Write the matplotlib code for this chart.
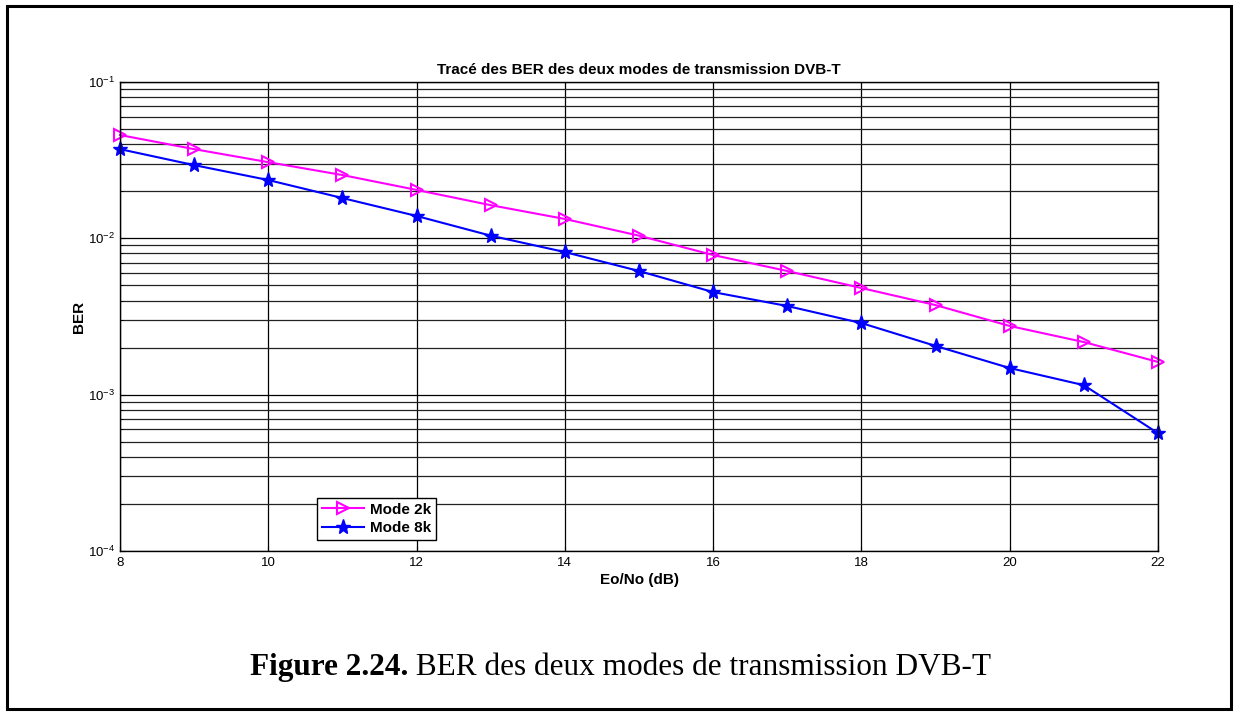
import matplotlib
matplotlib.use("Agg")
import matplotlib.pyplot as plt
from matplotlib.patches import Rectangle

snr_db = [8, 9, 10, 11, 12, 13, 14, 15, 16, 17, 18, 19, 20, 21, 22]
ber_2k = [0.0458, 0.0372, 0.0307, 0.0254, 0.0204, 0.0163, 0.0133, 0.0104,
          0.00782, 0.00618, 0.00481, 0.00374, 0.00275, 0.00217, 0.00162]
ber_8k = [0.0372, 0.0294, 0.0236, 0.0181, 0.0139, 0.0104, 0.00817, 0.00618,
          0.00453, 0.00369, 0.00287, 0.00205, 0.00148, 0.00115, 0.000567]
x_ticks = [8, 10, 12, 14, 16, 18, 20, 22]
title = "Tracé des BER des deux modes de transmission DVB-T"
xlabel = "Eo/No (dB)"
ylabel = "BER"
legend_labels = ["Mode 2k", "Mode 8k"]
caption_bold = "Figure 2.24."
caption_rest = " BER des deux modes de transmission DVB-T"

plt.rcParams['font.family'] = ['Liberation Sans', 'DejaVu Sans']
plt.rcParams['mathtext.default'] = 'regular'

W, H = 1236, 715
fig = plt.figure(figsize=(W/100, H/100), dpi=100)
fig.patch.set_facecolor('white')
ax = fig.add_axes([120/W, 1-551/H, (1158-120)/W, (551-82)/H])

ax.semilogy(snr_db, ber_2k, color='#ff00ff', lw=1.5, marker='>', ms=8,
            mfc='none', mec='#ff00ff', mew=1.5, label=legend_labels[0], clip_on=False)
ax.semilogy(snr_db, ber_8k, color='#0000ff', lw=1.5, marker='*', ms=11,
            mfc='#0000ff', mec='#0000ff', label=legend_labels[1], clip_on=False)

ax.set_xlim(8, 22)
ax.set_ylim(1e-4, 1e-1)
ax.set_xticks(x_ticks)
ax.grid(True, which='major', color='black', lw=0.9, ls='-')
ax.grid(True, which='minor', color='#222222', lw=0.9, ls='-')
ax.tick_params(axis='both', which='both', direction='in', labelsize=9.5, top=False, right=False)
ax.tick_params(axis='x', pad=4)
ax.tick_params(axis='y', which='minor', labelleft=False)
for s in ax.spines.values():
    s.set_linewidth(1.0)

ax.set_title(title, fontsize=11, fontweight='bold', pad=6)
ax.set_xlabel(xlabel, fontsize=11, fontweight='bold')
ax.set_ylabel(ylabel, fontsize=11, fontweight='bold')
ax.xaxis.set_label_coords(0.5, (551-573)/469)
ax.yaxis.set_label_coords((86-120)/1038, 0.5)

leg = ax.legend(loc='lower left', bbox_to_anchor=((317-120)/1038, (551-540)/469),
                prop={'weight': 'bold', 'size': 11}, frameon=True, fancybox=False,
                edgecolor='black', framealpha=1, borderpad=0.3, handlelength=2.8,
                handletextpad=0.35, labelspacing=0.3, borderaxespad=0, markerscale=1.0)
leg.get_frame().set_linewidth(1.0)

# outer frame
fig.add_artist(Rectangle((7/W, 1-709/H), (1231-7)/W, (709-6)/H,
                         transform=fig.transFigure, fill=False, ec='black', lw=2.2))

fs = 22.5
t1 = fig.text(0, 1-675/H, caption_bold, fontsize=fs, fontweight='bold',
              family='Liberation Serif', ha='left', va='baseline')
t2 = fig.text(0, 1-675/H, caption_rest, fontsize=fs,
              family='Liberation Serif', ha='left', va='baseline')
fig.canvas.draw()
r = fig.canvas.get_renderer()
w1 = t1.get_window_extent(r).width
w2 = t2.get_window_extent(r).width
x0 = 620.5 - (w1 + w2) / 2
t1.set_x(x0 / W)
t2.set_x((x0 + w1) / W)

fig.savefig('out.png', dpi=100, facecolor='white')
